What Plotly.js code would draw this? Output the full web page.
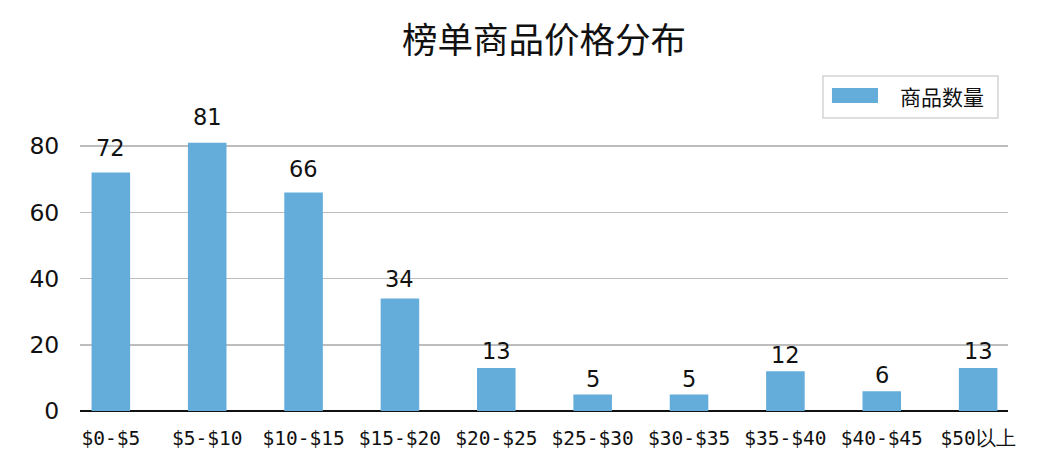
<!DOCTYPE html>
<html><head><meta charset="utf-8">
<script src="https://cdn.plot.ly/plotly-3.0.1.min.js"></script>
<style>html,body{margin:0;padding:0;background:#fff}#c{width:1054px;height:466px}</style>
</head><body><div id="c"></div>
<script>
const categories = ["$0-$5","$5-$10","$10-$15","$15-$20","$20-$25","$25-$30","$30-$35","$35-$40","$40-$45","$50以上"];
const counts = [72,81,66,34,13,5,5,12,6,13];
const yTicks = [0,20,40,60,80];
const seriesName = "商品数量";
const chartTitle = "榜单商品价格分布";
const barColor = "#64acda";

const idx = categories.map((c,i)=>i);
const trace = {
  type: "bar", x: idx, y: counts, name: seriesName,
  marker: {color: barColor}, width: 0.4, showlegend: false
};
const valueLabels = counts.map((v,i)=>({
  x: i, y: v * 1.04, xref: "x", yref: "y", text: String(v), showarrow: false,
  yanchor: "bottom", yshift: 0,
  font: {family: "DejaVu Sans", size: 22.5, color: "#111"}
}));
const legendText = {
  xref: "paper", yref: "paper", x: 0.9289, y: 1.057, xanchor: "center", yanchor: "middle",
  text: seriesName, showarrow: false,
  font: {family: "Noto Sans CJK SC", size: 21, color: "#111"}
};
const layout = {
  width: 1054, height: 466,
  margin: {l: 80, r: 46, t: 113, b: 55},
  paper_bgcolor: "#fff", plot_bgcolor: "#fff",
  title: {text: chartTitle, xref: "paper", x: 0.5, xanchor: "center", y: 0.914, yanchor: "middle",
          font: {family: "Noto Sans CJK SC", size: 35.5, color: "#111"}},
  showlegend: false,
  xaxis: {range: [-0.32, 9.31], tickvals: idx, ticktext: categories,
          tickfont: {family: "DejaVu Sans Mono", size: 19.5, color: "#111"},
          showgrid: false, zeroline: false, showline: false,
          ticks: "outside", ticklen: 10, tickcolor: "rgba(0,0,0,0)", fixedrange: true},
  yaxis: {range: [0, 90], tickvals: yTicks, ticktext: yTicks.map(String),
          tickfont: {family: "DejaVu Sans", size: 23.5, color: "#111"},
          showgrid: true, gridcolor: "#bdbdbd", gridwidth: 1.5, zeroline: true, zerolinecolor: "#111", zerolinewidth: 2,
          showline: false, ticks: "outside", ticklen: 15, tickcolor: "rgba(0,0,0,0)", fixedrange: true},
  shapes: [
    {type: "rect", xref: "paper", yref: "paper", x0: 0.8006, x1: 0.9892, y0: 0.983, y1: 1.124,
     line: {color: "#d4d4d4", width: 1.5}, fillcolor: "#fff"},
    {type: "rect", xref: "paper", yref: "paper", x0: 0.8103, x1: 0.8599, y0: 1.0336, y1: 1.0839,
     line: {width: 0}, fillcolor: barColor}
  ],
  annotations: valueLabels.concat([legendText])
};
Plotly.newPlot("c", [trace], layout, {displayModeBar: false, staticPlot: true});
</script></body></html>
